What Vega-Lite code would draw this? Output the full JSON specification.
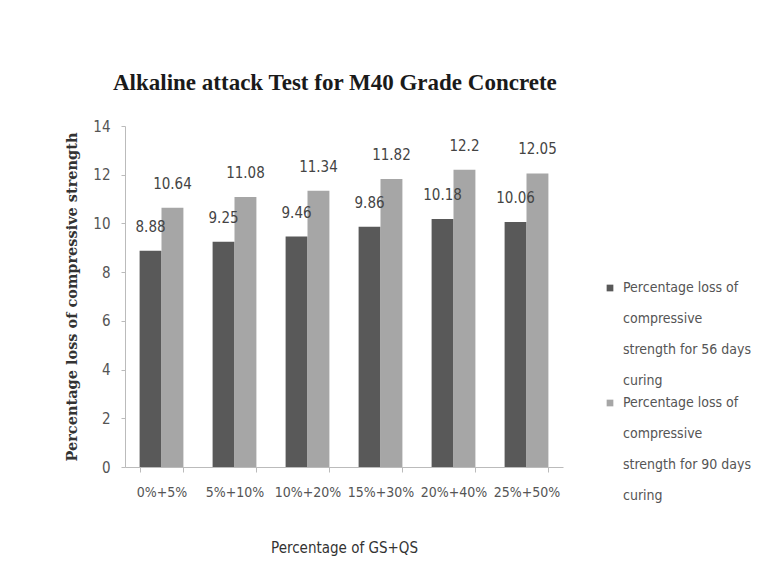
{
  "$schema": "https://vega.github.io/schema/vega-lite/v6.json",
  "width": 438,
  "height": 341,
  "autosize": {"type": "none"},
  "padding": {"left": 125, "top": 126, "right": 208, "bottom": 119},
  "background": "white",
  "title": {
    "text": "Alkaline attack Test for M40 Grade Concrete",
    "font": "Liberation Serif",
    "fontSize": 23,
    "fontWeight": "bold",
    "color": "#1a1a1a",
    "anchor": "start",
    "frame": "group",
    "dx": -12,
    "offset": 24
  },
  "config": {"view": {"stroke": null}},
  "data": {
    "values": [
      {"mix": "0%+5%", "series": "Percentage loss of compressive strength for 56 days curing", "value": 8.88},
      {"mix": "0%+5%", "series": "Percentage loss of compressive strength for 90 days curing", "value": 10.64},
      {"mix": "5%+10%", "series": "Percentage loss of compressive strength for 56 days curing", "value": 9.25},
      {"mix": "5%+10%", "series": "Percentage loss of compressive strength for 90 days curing", "value": 11.08},
      {"mix": "10%+20%", "series": "Percentage loss of compressive strength for 56 days curing", "value": 9.46},
      {"mix": "10%+20%", "series": "Percentage loss of compressive strength for 90 days curing", "value": 11.34},
      {"mix": "15%+30%", "series": "Percentage loss of compressive strength for 56 days curing", "value": 9.86},
      {"mix": "15%+30%", "series": "Percentage loss of compressive strength for 90 days curing", "value": 11.82},
      {"mix": "20%+40%", "series": "Percentage loss of compressive strength for 56 days curing", "value": 10.18},
      {"mix": "20%+40%", "series": "Percentage loss of compressive strength for 90 days curing", "value": 12.2},
      {"mix": "25%+50%", "series": "Percentage loss of compressive strength for 56 days curing", "value": 10.06},
      {"mix": "25%+50%", "series": "Percentage loss of compressive strength for 90 days curing", "value": 12.05}
    ]
  },
  "encoding": {
    "x": {
      "field": "mix",
      "type": "nominal",
      "sort": null,
      "scale": {"paddingInner": 0.4, "paddingOuter": 0.2},
      "axis": {
        "title": "Percentage of GS+QS",
        "titleFont": "Liberation Sans Narrow, DejaVu Sans Condensed, sans-serif",
        "titleFontSize": 15,
        "titleFontWeight": "normal",
        "titleColor": "#333",
        "titlePadding": 41,
        "labelAngle": 0,
        "labelFont": "Liberation Sans Narrow, DejaVu Sans Condensed, sans-serif",
        "labelFontSize": 14,
        "labelColor": "#555",
        "labelPadding": 13,
        "tickBand": "extent",
        "tickSize": 5,
        "tickColor": "#bbb",
        "domainColor": "#bbb"
      }
    },
    "xOffset": {"field": "series", "sort": null},
    "y": {
      "field": "value",
      "type": "quantitative",
      "scale": {"domain": [0, 14]},
      "axis": {
        "values": [0, 2, 4, 6, 8, 10, 12, 14],
        "grid": false,
        "title": "Percentage loss of compressive strength",
        "titleFont": "DejaVu Serif",
        "titleFontSize": 14.5,
        "titleFontWeight": "bold",
        "titleColor": "#333",
        "titlePadding": 13,
        "labelFont": "Liberation Sans Narrow, DejaVu Sans Condensed, sans-serif",
        "labelFontSize": 15,
        "labelColor": "#555",
        "labelPadding": 11,
        "tickSize": 4,
        "tickColor": "#bbb",
        "domainColor": "#bbb"
      }
    }
  },
  "layer": [
    {
      "mark": {"type": "bar"},
      "encoding": {
        "color": {
          "field": "series",
          "type": "nominal",
          "sort": null,
          "scale": {"range": ["#595959", "#a6a6a6"]},
          "legend": {
            "title": null,
            "orient": "none",
            "legendX": 478,
            "legendY": 155,
            "symbolType": "square",
            "symbolSize": 45,
            "symbolStrokeWidth": 0,
            "labelFont": "Liberation Sans Narrow, DejaVu Sans Condensed, sans-serif",
            "labelFontSize": 14,
            "labelColor": "#555",
            "labelLimit": 0,
            "labelOffset": 6,
            "rowPadding": 8,
            "labelExpr": "['Percentage loss of', 'compressive', 'strength for ' + (indexof(datum.label, '56') >= 0 ? '56' : '90') + ' days', 'curing']",
            "encode": {"labels": {"update": {"lineHeight": {"value": 31}}}}
          }
        }
      }
    },
    {
      "mark": {
        "type": "text",
        "baseline": "bottom",
        "dy": -16,
        "font": "Liberation Sans Narrow, DejaVu Sans Condensed, sans-serif",
        "fontSize": 15,
        "color": "#444"
      },
      "encoding": {"text": {"field": "value", "type": "quantitative"}}
    }
  ]
}
